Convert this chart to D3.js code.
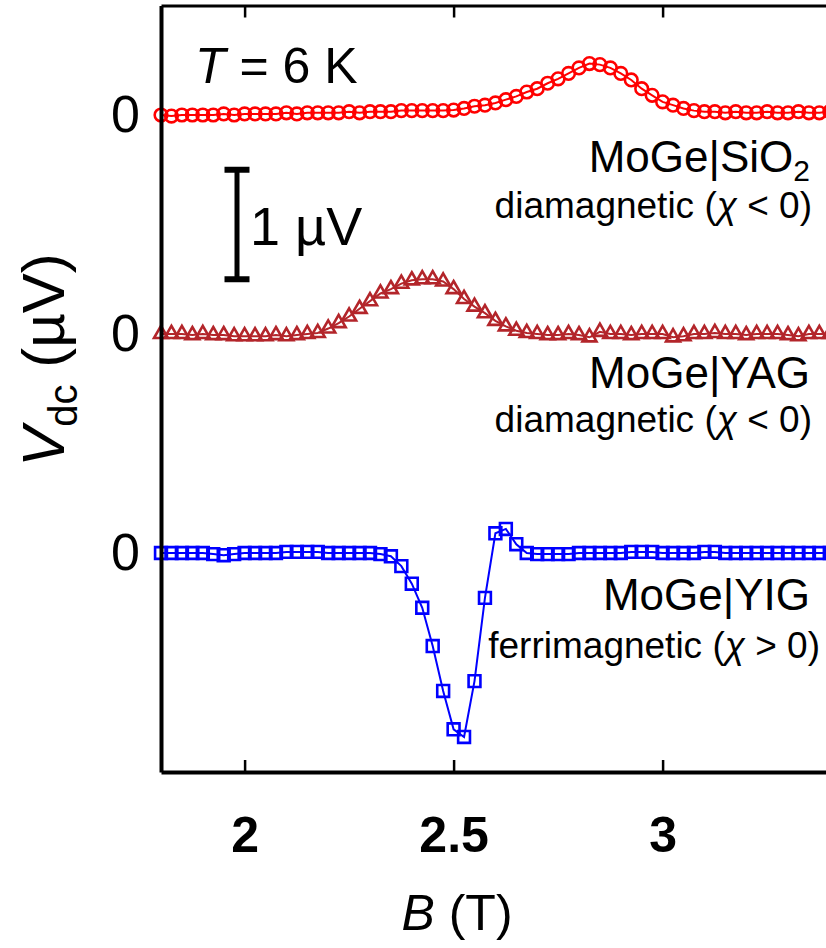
<!DOCTYPE html>
<html>
<head>
<meta charset="utf-8">
<script src="https://cdn.jsdelivr.net/npm/d3@7"></script>
<style>
  body { margin: 0; background: #fff; }
  svg { font-family: "Liberation Sans", Arial, sans-serif; }
</style>
</head>
<body>
<svg id="chart" width="826" height="948"></svg>
<script>
// magnetic field B (T), same grid for all three samples
const fieldB = [1.8, 1.825, 1.85, 1.875, 1.9, 1.925, 1.95, 1.975, 2.0, 2.025, 2.05, 2.075,
  2.1, 2.125, 2.15, 2.175, 2.2, 2.225, 2.25, 2.275, 2.3, 2.325, 2.35, 2.375,
  2.4, 2.425, 2.45, 2.475, 2.5, 2.525, 2.55, 2.575, 2.6, 2.625, 2.65, 2.675,
  2.7, 2.725, 2.75, 2.775, 2.8, 2.825, 2.85, 2.875, 2.9, 2.925, 2.95, 2.975,
  3.0, 3.025, 3.05, 3.075, 3.1, 3.125, 3.15, 3.175, 3.2, 3.225, 3.25, 3.275,
  3.3, 3.325, 3.35, 3.375, 3.4];

// V_dc (uV) for each sample
const sio2V = [0.00, -0.01, 0.00, 0.00, 0.00, 0.00, 0.01, 0.00, 0.01, 0.01, 0.01, 0.01,
  0.02, 0.01, 0.02, 0.02, 0.02, 0.02, 0.03, 0.02, 0.03, 0.03, 0.03, 0.04,
  0.04, 0.04, 0.04, 0.04, 0.045, 0.06, 0.08, 0.09, 0.11, 0.14, 0.17, 0.21,
  0.24, 0.29, 0.33, 0.38, 0.43, 0.47, 0.46, 0.43, 0.38, 0.32, 0.24, 0.18,
  0.12, 0.09, 0.06, 0.04, 0.03, 0.03, 0.02, 0.03, 0.02, 0.02, 0.03, 0.02,
  0.02, 0.03, 0.02, 0.02, 0.03];

const yagV = [0.00, 0.00, 0.00, -0.01, 0.00, -0.01, -0.01, -0.02, -0.02, -0.02, -0.02, -0.01,
  -0.02, -0.01, 0.00, 0.01, 0.05, 0.10, 0.16, 0.23, 0.30, 0.37, 0.41, 0.46,
  0.49, 0.50, 0.50, 0.48, 0.41, 0.32, 0.25, 0.19, 0.12, 0.07, 0.03, 0.01,
  0.00, -0.01, -0.01, 0.00, -0.01, -0.03, 0.02, 0.00, 0.00, -0.01, 0.00, 0.00,
  0.00, -0.03, -0.02, 0.00, 0.00, 0.01, 0.00, 0.00, -0.01, 0.00, 0.00, 0.00,
  -0.01, -0.02, 0.00, 0.00, 0.00];

const yigV = [0.00, 0.00, 0.00, 0.00, 0.00, -0.01, -0.02, -0.01, 0.00, 0.00, 0.00, 0.00,
  0.01, 0.01, 0.01, 0.01, 0.00, 0.00, 0.00, 0.00, 0.00, -0.01, -0.03, -0.12,
  -0.28, -0.50, -0.85, -1.26, -1.61, -1.68, -1.17, -0.41, 0.18, 0.22, 0.08, 0.00,
  -0.01, -0.01, -0.01, -0.01, 0.00, 0.00, 0.00, 0.00, 0.00, 0.01, 0.01, 0.01,
  0.00, 0.00, 0.00, 0.00, 0.01, 0.01, 0.00, 0.00, 0.00, 0.00, 0.00, 0.00,
  0.00, 0.00, 0.00, 0.00, 0.00];

// vertical offsets of the stacked curves (uV)
const sampleOffsets = [4, 2, 0];
const sampleNames = ["SiO2", "YAG", "YIG"];
const sampleColors = ["#ff0000", "#b3252a", "#0000ff"];
const xTicks = [2, 2.5, 3];
const xTickLabels = ["2", "2.5", "3"];

const svg = d3.select("#chart");

const x = d3.scaleLinear().domain([1.8, 3.45]).range([161, 850.7]);
const y = d3.scaleLinear().domain([-2, 5]).range([772, 5.5]);

const series = [sio2V, yagV, yigV].map((vals, i) => ({
  name: sampleNames[i],
  color: sampleColors[i],
  points: vals.map((v, j) => ({ b: fieldB[j], v: v + sampleOffsets[i] }))
}));

const line = d3.line().x(d => x(d.b)).y(d => y(d.v));

const symbols = [
  d3.symbol().type(d3.symbolCircle).size(125),
  d3.symbol().type(d3.symbolTriangle).size(85),
  d3.symbol().type(d3.symbolSquare).size(140)
];

series.forEach((s, i) => {
  const g = svg.append("g").attr("class", `series ${s.name}`);
  g.append("path")
    .datum(s.points)
    .attr("d", line)
    .style("fill", "none")
    .style("stroke", s.color)
    .style("stroke-width", 2);
  g.selectAll(".pt")
    .data(s.points)
    .enter()
    .append("path")
    .attr("class", "pt")
    .attr("transform", d => `translate(${x(d.b)},${y(d.v)})`)
    .attr("d", symbols[i])
    .style("fill", "none")
    .style("stroke", s.color)
    .style("stroke-width", 2.6);
});

// axes: bottom with labels, top only ticks
const xAxis = svg.append("g")
  .attr("transform", `translate(0,${y(-2)})`)
  .call(d3.axisBottom(x).tickValues(xTicks).tickSize(-12).tickSizeOuter(0)
    .tickPadding(44).tickFormat((d, i) => xTickLabels[i]));
xAxis.select(".domain").style("stroke-width", 4);
xAxis.selectAll(".tick line").style("stroke-width", 2.5);
xAxis.selectAll("text")
  .style("font-size", "50px")
  .style("font-weight", "bold")
  .style("fill", "#000");

const topAxis = svg.append("g")
  .attr("transform", `translate(0,${y(5)})`)
  .call(d3.axisTop(x).tickValues(xTicks).tickSize(-12).tickSizeOuter(0).tickFormat(""));
topAxis.select(".domain").style("stroke-width", 3);
topAxis.selectAll(".tick line").style("stroke-width", 2.5);

const yAxis = svg.append("g")
  .attr("transform", `translate(${x(1.8)},0)`)
  .call(d3.axisLeft(y).tickValues(sampleOffsets).tickSize(0).tickSizeOuter(0)
    .tickPadding(21).tickFormat(() => "0"));
yAxis.select(".domain").style("stroke-width", 4);
yAxis.selectAll("text")
  .style("font-size", "52px")
  .style("fill", "#000");

// axis titles
const xTitle = svg.append("text")
  .attr("x", 457).attr("y", 930)
  .attr("text-anchor", "middle")
  .style("font-size", "50px");
xTitle.append("tspan").style("font-style", "italic").text("B");
xTitle.append("tspan").text(" (T)");

const yTitle = svg.append("text")
  .attr("transform", "translate(64,360) rotate(-90)")
  .attr("text-anchor", "middle")
  .style("font-size", "60px");
yTitle.append("tspan").style("font-style", "italic").text("V");
yTitle.append("tspan").attr("dy", 13).style("font-size", "40px").text("dc");
yTitle.append("tspan").attr("dy", -13).text(" (µV)");

// temperature
const tLabel = svg.append("text")
  .attr("x", 195).attr("y", 83)
  .style("font-size", "50px");
tLabel.append("tspan").style("font-style", "italic").text("T");
tLabel.append("tspan").text(" = 6 K");

// 1 uV scale bar
const barX = 237;
svg.append("line")
  .attr("x1", barX).attr("x2", barX)
  .attr("y1", y(2.5)).attr("y2", y(3.5))
  .style("stroke", "#000").style("stroke-width", 5);
[2.5, 3.5].forEach(v => {
  svg.append("line")
    .attr("x1", barX - 12.5).attr("x2", barX + 12.5)
    .attr("y1", y(v)).attr("y2", y(v))
    .style("stroke", "#000").style("stroke-width", 6);
});
svg.append("text")
  .attr("x", 250).attr("y", 245)
  .style("font-size", "54px")
  .text("1 µV");

// sample labels
const labels = [
  { main: "MoGe|SiO", sub: "2", note: "diamagnetic (", sign: " < 0)", y1: 172, y2: 218, end2: 812 },
  { main: "MoGe|YAG", sub: "", note: "diamagnetic (", sign: " < 0)", y1: 388, y2: 432, end2: 812 },
  { main: "MoGe|YIG", sub: "", note: "ferrimagnetic (", sign: " > 0)", y1: 610, y2: 658, end2: 820 }
];
labels.forEach(l => {
  const t1 = svg.append("text")
    .attr("x", 810).attr("y", l.y1)
    .attr("text-anchor", "end")
    .style("font-size", "44px");
  t1.append("tspan").text(l.main);
  if (l.sub) {
    t1.append("tspan").attr("dy", 9).style("font-size", "30px").text(l.sub);
  }
  const t2 = svg.append("text")
    .attr("x", l.end2).attr("y", l.y2)
    .attr("text-anchor", "end")
    .style("font-size", "37px");
  t2.append("tspan").text(l.note);
  t2.append("tspan").style("font-style", "italic").text("χ");
  t2.append("tspan").text(l.sign);
});
</script>
</body>
</html>
